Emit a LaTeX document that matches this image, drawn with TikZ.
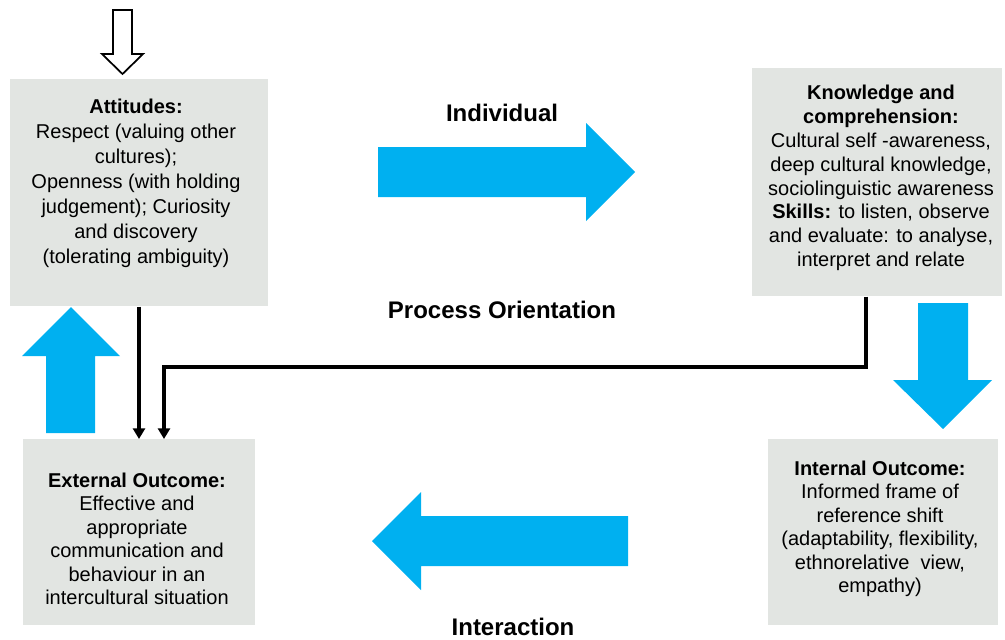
\documentclass[tikz,border=0pt]{standalone}
\usepackage{fontspec}
\setmainfont{Liberation Sans}
\usetikzlibrary{arrows.meta}
\definecolor{boxgray}{RGB}{226,229,226}
\definecolor{flowblue}{RGB}{0,176,240}
\begin{document}
\begin{tikzpicture}[x=0.75pt,y=-0.75pt,
  panel/.style={draw=none,fill=boxgray,inner sep=0pt,anchor=north west},
  paneltext/.style={align=center,inner sep=0pt,font=\fontsize{15pt}{17.6pt}\selectfont},
  caption/.style={inner sep=0pt,font=\fontsize{18pt}{21pt}\selectfont\bfseries},
  conn/.style={line width=2.4pt,-{Triangle[width=9pt,length=8pt]}},
  blockarrow/.style={fill=flowblue,draw=none}]
\useasboundingbox (0,0) rectangle (1005,639);

% panels
\node[panel,minimum width=258*0.75pt,minimum height=227*0.75pt] (att) at (10,79) {};
\node[panel,minimum width=250*0.75pt,minimum height=228*0.75pt] (know) at (752,68) {};
\node[panel,minimum width=232*0.75pt,minimum height=186*0.75pt] (ext) at (23,439) {};
\node[panel,minimum width=230*0.75pt,minimum height=186*0.75pt] (int) at (768,439) {};

% panel texts
\node[paneltext,font=\fontsize{15pt}{18.75pt}\selectfont] (attT) at (136,183)
  {\textbf{Attitudes:}\\Respect (valuing other\\cultures);\\Openness (with holding\\judgement); Curiosity\\and discovery\\(tolerating ambiguity)};
\node[paneltext,font=\fontsize{15pt}{17.9pt}\selectfont] (knowT) at (881,178)
  {\textbf{Knowledge and}\\\textbf{comprehension:}\\ Cultural self -awareness,\\deep cultural knowledge,\\sociolinguistic awareness\\\textbf{Skills:} to listen, observe\\and evaluate: to analyse,\\interpret and relate};
\node[paneltext] (extT) at (137,539)
  {\textbf{External Outcome:}\\Effective and\\appropriate\\communication and\\behaviour in an\\intercultural situation};
\node[paneltext] (intT) at (880,529)
  {\textbf{Internal Outcome:}\\Informed frame of\\reference shift\\(adaptability, flexibility,\\ethnorelative\ \ view,\\empathy)};

% captions
\node[caption] (lblInd) at (502,113) {Individual};
\node[caption] (lblProc) at (502,310) {Process Orientation};
\node[caption] (lblInt) at (513,627) {Interaction};

% hollow entry arrow
\draw[line width=1.3pt,fill=white,line join=miter]
  (113,10) -- (132,10) -- (132,54) -- (143,54) -- (122.5,74) -- (102,54) -- (113,54) -- cycle;

% block arrows
\fill[blockarrow] (378,147) -- (586,147) -- (586,123) -- (635,172) -- (586,221) -- (586,197) -- (378,197) -- cycle;
\fill[blockarrow] (918,303) -- (968,303) -- (968,380) -- (992,380) -- (943,429) -- (893,380) -- (918,380) -- cycle;
\fill[blockarrow] (628,516) -- (421,516) -- (421,492) -- (372,541) -- (421,590) -- (421,566) -- (628,566) -- cycle;
\fill[blockarrow] (46,433) -- (46,356) -- (22,356) -- (71,307) -- (120,356) -- (95,356) -- (95,433) -- cycle;

% connectors
\coordinate (c1) at (139,0);
\coordinate (c2) at (866,0);
\coordinate (j) at (164,367);
\draw[conn] (att.south -| c1) -- (ext.north -| c1);
\draw[conn] (know.south -| c2) |- (j) -- (ext.north -| j);
\end{tikzpicture}
\end{document}
